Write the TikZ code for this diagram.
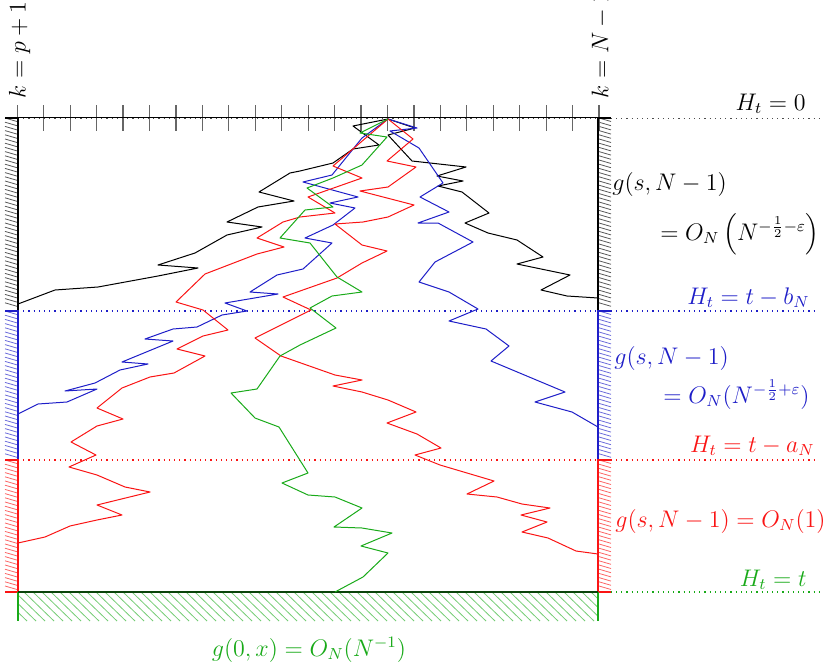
\documentclass[tikz,border=0pt]{standalone}
\usepackage{amsmath,amssymb}
\usepackage{xcolor}
\definecolor{hblue}{RGB}{30,30,200}
\definecolor{hred}{RGB}{250,20,20}
\definecolor{hgreen}{RGB}{25,170,25}

\begin{document}
\begin{tikzpicture}[x=0.5pt, y=-0.5pt,
  walk/.style={line width=0.5pt, line join=round},
  wallline/.style={line width=1.1pt},
  hatch/.style={line width=0.4pt},
  heightline/.style={dotted, line width=0.6pt},
  lbl/.style={font=\fontsize{11.5}{14}\selectfont, inner sep=0pt},
]
  \useasboundingbox (0,0) rectangle (829,669);

  % ticks on the top line
  \foreach \i in {0,...,22}
    \draw[black!60, line width=0.6pt] ({17.3+26.44*\i},105) -- ({17.3+26.44*\i},131);

  % dotted height levels
  \draw[heightline, black!70] (18,118.5) -- (820,118.5);
  \draw[heightline, hblue] (18,311) -- (818,311);
  \draw[heightline, hred] (18,460) -- (818,460);
  \draw[heightline, hgreen] (18,592) -- (820,592);

  % hatched side walls
  \foreach \ya/\yb/\col in {118/311/black, 311/460/hblue, 460/592/hred} {
    \pgfmathtruncatemacro{\nh}{(\yb-\ya)/4.2-1}
    \foreach \k in {0,...,\nh} {
      \pgfmathsetmacro{\yy}{\ya+4.2*\k}
      \draw[hatch, color=\col!65] (5,\yy) -- (17,\yy+3.5);
      \draw[hatch, color=\col!65] (599,\yy) -- (611,\yy+3.5);
    }
    \draw[wallline, color=\col] (5,\ya) -- (18,\ya) -- (18,\yb) -- (5,\yb);
    \draw[wallline, color=\col] (611,\ya) -- (598,\ya) -- (598,\yb) -- (611,\yb);
  }

  % hatched bottom
  \begin{scope}
    \clip (18,592) rectangle (598,621);
    \foreach \x in {-30,-21,...,600}
      \draw[hatch, hgreen!60] (\x,592) -- (\x+30,621);
  \end{scope}
  \draw[hgreen, line width=0.6pt] (18,592) -- (18,621);
  \draw[hgreen, line width=0.6pt] (598,592) -- (598,621);
  \draw[hgreen!40!black, line width=1pt] (18,592) -- (598,592);

  % top line
  \draw[line width=0.9pt] (5,117.5) -- (611,117.5);

  % walks from the apex
  \draw[walk, black] (388,119) -- (353,126) -- (379,145) -- (353,149) -- (333,163)
    -- (300,171) -- (290,173) -- (259,192) -- (294,201) -- (258,207) -- (227,222)
    -- (262,227) -- (227,235) -- (195,253) -- (158,265) -- (198,268) -- (158,276)
    -- (98,287) -- (55,290) -- (18,304);
  \draw[walk, black] (388,119) -- (415,128) -- (388,135) -- (412,161) -- (466,167)
    -- (437,176) -- (463,181) -- (438,186) -- (462,192) -- (489,213) -- (465,223)
    -- (488,233) -- (517,240) -- (543,257) -- (517,264) -- (570,275) -- (541,290)
    -- (567,296) -- (598,298);
  \draw[walk, hblue] (388,119) -- (362,138) -- (332,175) -- (303,182) -- (358,197)
    -- (330,203) -- (355,208) -- (333,225) -- (305,238) -- (332,243) -- (303,269)
    -- (277,275) -- (250,292) -- (278,294) -- (225,303) -- (247,311) -- (222,315)
    -- (197,327) -- (173,329) -- (145,339) -- (173,341) -- (122,362) -- (148,364)
    -- (120,370) -- (95,383) -- (65,391) -- (97,389) -- (67,402) -- (38,404) -- (18,414);
  \draw[walk, hblue] (388,119) -- (417,128) -- (390,131) -- (419,148) -- (443,183)
    -- (420,197) -- (449,212) -- (418,223) -- (438,223) -- (473,242) -- (435,262)
    -- (419,282) -- (449,292) -- (478,309) -- (449,321) -- (486,329) -- (509,346)
    -- (491,361) -- (565,392) -- (535,402) -- (572,412) -- (598,427);
  \draw[walk, hred] (388,119) -- (333,166) -- (362,178) -- (308,197) -- (335,213)
    -- (300,217) -- (283,222) -- (257,238) -- (284,247) -- (257,254) -- (205,274)
    -- (176,302) -- (203,310) -- (228,330) -- (203,336) -- (177,349) -- (205,356)
    -- (174,373) -- (150,377) -- (122,388) -- (97,408) -- (123,419) -- (97,426)
    -- (71,442) -- (96,455) -- (69,467) -- (97,475) -- (125,487) -- (150,492)
    -- (97,505) -- (122,515) -- (97,520) -- (70,526) -- (45,537) -- (18,543);
  \draw[walk, hred] (388,119) -- (413,139) -- (387,161) -- (416,167) -- (388,187)
    -- (360,191) -- (414,205) -- (388,217) -- (363,222) -- (335,224) -- (362,245)
    -- (387,251) -- (362,263) -- (337,278) -- (283,297) -- (311,310) -- (255,338)
    -- (281,356) -- (335,375) -- (362,380) -- (333,386) -- (362,392) -- (388,400)
    -- (416,412) -- (387,423) -- (417,434) -- (441,448) -- (415,455) -- (440,465)
    -- (494,481) -- (467,494) -- (497,497) -- (522,504) -- (550,508) -- (521,515)
    -- (547,522) -- (522,532) -- (548,538) -- (576,551) -- (598,554);
  \draw[walk, hgreen] (388,119) -- (360,133) -- (387,137) -- (362,165) -- (333,178)
    -- (307,188) -- (333,207) -- (305,210) -- (280,238) -- (310,243) -- (337,277)
    -- (362,292) -- (332,296) -- (310,308) -- (336,328) -- (300,345) -- (280,356)
    -- (257,389) -- (231,393) -- (255,418) -- (279,427) -- (308,473) -- (282,483)
    -- (308,495) -- (335,497) -- (362,508) -- (334,527) -- (362,528) -- (392,533)
    -- (361,546) -- (388,553) -- (363,577) -- (335,592);

  % labels
  \node[lbl, rotate=90, anchor=west] (kleft) at (19.5,99) {$k=p+1$};
  \node[lbl, rotate=90, anchor=west] (kright) at (601,99) {$k=N-1$};
  \node[lbl, anchor=base east] (hzero) at (806,110) {$H_t=0$};
  \node[lbl, anchor=base west] (gtop) at (612,190) {$g(s,N-1)$};
  \node[lbl, anchor=base east] (otop) at (820,240) {$=O_N\left(N^{-\frac{1}{2}-\varepsilon}\right)$};
  \node[lbl, anchor=base east, text=hblue] (hbn) at (810,304) {$H_t=t-b_N$};
  \node[lbl, anchor=base west, text=hblue] (gmid) at (614,364) {$g(s,N-1)$};
  \node[lbl, anchor=base east, text=hblue] (omid) at (810,403) {$=O_N(N^{-\frac{1}{2}+\varepsilon})$};
  \node[lbl, anchor=base east, text=hred] (han) at (815,452) {$H_t=t-a_N$};
  \node[lbl, anchor=base east, text=hred] (glow) at (826,527) {$g(s,N-1)=O_N(1)$};
  \node[lbl, anchor=base east, text=hgreen] (hfull) at (807,586) {$H_t=t$};
  \node[lbl, anchor=base, text=hgreen] (gzero) at (309,656) {$g(0,x)=O_N(N^{-1})$};
\end{tikzpicture}
\end{document}
